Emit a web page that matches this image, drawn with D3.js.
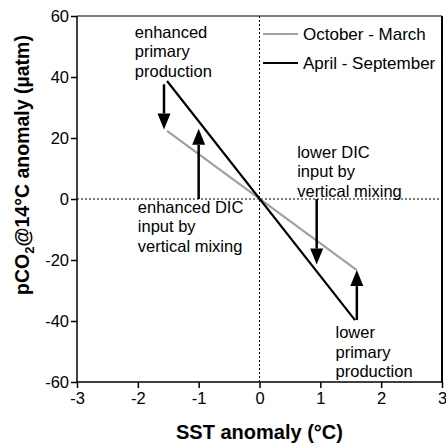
<!DOCTYPE html>
<html>
<head>
<meta charset="utf-8">
<script src="https://cdn.jsdelivr.net/npm/d3@7"></script>
<style>
  body { margin: 0; background: #fff; }
  text { font-family: "Liberation Sans", Arial, sans-serif; }
</style>
</head>
<body>
<svg id="chart" width="446" height="444"></svg>
<script>
// values
const xTicks = [-3, -2, -1, 0, 1, 2, 3];
const yTicks = [-60, -40, -20, 0, 20, 40, 60];
const octMarch = [[-1.52, 22.3], [1.6, -23.3]];
const aprSep = [[-1.52, 38.7], [1.57, -39.7]];
// arrows: x, start y, tip y
const arrows = [
  [-1.57, 37.6, 22.8],
  [-1.0, 0, 23],
  [0.94, 0, -21.5],
  [1.6, -39.7, -23.3]
];
const notes = [
  { x: -2.05, y: 52.8, lines: ['enhanced', 'primary', 'production'] },
  { x: -2.0, y: -4.5, lines: ['enhanced DIC', 'input by', 'vertical mixing'] },
  { x: 0.62, y: 13.6, lines: ['lower DIC', 'input by', 'vertical mixing'] },
  { x: 1.25, y: -45.6, lines: ['lower', 'primary', 'production'] }
];
const legendItems = [
  { label: 'October - March', color: '#a0a0a0' },
  { label: 'April - September', color: '#000' }
];

const svg = d3.select('#chart');
const m = { left: 77, right: 442, top: 16, bottom: 382 };

const x = d3.scaleLinear().domain([-3, 3]).range([m.left, m.right]);
const y = d3.scaleLinear().domain([-60, 60]).range([m.bottom, m.top]);

// frame top / right
svg.append('line')
  .attr('x1', m.left).attr('x2', m.right).attr('y1', m.top).attr('y2', m.top)
  .attr('stroke', '#000').attr('stroke-width', 1.2);
svg.append('line')
  .attr('x1', m.right).attr('x2', m.right).attr('y1', m.top).attr('y2', m.bottom)
  .attr('stroke', '#000').attr('stroke-width', 2);

// zero lines
svg.append('line')
  .attr('x1', m.left).attr('x2', m.right).attr('y1', y(0)).attr('y2', y(0))
  .attr('stroke', '#000').attr('stroke-width', 1).attr('stroke-dasharray', '2,2');
svg.append('line')
  .attr('x1', x(0)).attr('x2', x(0)).attr('y1', m.top).attr('y2', m.bottom)
  .attr('stroke', '#000').attr('stroke-width', 1).attr('stroke-dasharray', '2,2');

// axes
const fmt = d => d < 0 ? '-' + Math.abs(d) : String(d);
const xAxis = svg.append('g')
  .attr('transform', `translate(0,${m.bottom})`)
  .call(d3.axisBottom(x).tickValues(xTicks).tickSize(6).tickPadding(4).tickFormat(fmt));
const yAxis = svg.append('g')
  .attr('transform', `translate(${m.left},0)`)
  .call(d3.axisLeft(y).tickValues(yTicks).tickSize(6).tickPadding(2).tickFormat(fmt));
[xAxis, yAxis].forEach(g => {
  g.select('.domain').attr('stroke-width', 1.5);
  g.selectAll('.tick line').attr('stroke-width', 1.5);
  g.selectAll('text').attr('font-size', 16.5).attr('fill', '#000')
    .style('font-family', '"Liberation Sans", Arial, sans-serif');
});
xAxis.select('.domain').attr('d', `M${m.left},0H${m.right}`);
yAxis.select('.domain').attr('d', `M0,${m.top}V${m.bottom}`);

// series
const line = d3.line().x(d => x(d[0])).y(d => y(d[1]));
svg.append('path').attr('d', line(octMarch))
  .attr('stroke', legendItems[0].color).attr('stroke-width', 2.2).attr('fill', 'none');
svg.append('path').attr('d', line(aprSep))
  .attr('stroke', legendItems[1].color).attr('stroke-width', 2.2).attr('fill', 'none');

// arrows
const headLen = 16, headW = 6.5;
arrows.forEach(([ax, y0, y1]) => {
  const px = x(ax), p0 = y(y0), p1 = y(y1);
  const dir = p1 > p0 ? 1 : -1;
  svg.append('line')
    .attr('x1', px).attr('x2', px).attr('y1', p0).attr('y2', p1 - dir * headLen)
    .attr('stroke', '#000').attr('stroke-width', 2.5);
  svg.append('path')
    .attr('d', `M${px - headW},${p1 - dir * headLen}L${px + headW},${p1 - dir * headLen}L${px},${p1}Z`)
    .attr('fill', '#000');
});

// annotations
notes.forEach(n => {
  const t = svg.append('text')
    .attr('x', x(n.x)).attr('y', y(n.y))
    .attr('font-size', 16.5).attr('fill', '#000');
  n.lines.forEach((s, i) => {
    t.append('tspan').attr('x', x(n.x)).attr('dy', i === 0 ? 0 : 19.5).text(s);
  });
});

// legend
legendItems.forEach((d, i) => {
  const ly = 34 + i * 29;
  svg.append('line')
    .attr('x1', 263).attr('x2', 298).attr('y1', ly).attr('y2', ly)
    .attr('stroke', d.color).attr('stroke-width', 2.2);
  svg.append('text')
    .attr('x', 303).attr('y', ly + 6)
    .attr('font-size', 17).attr('fill', '#000').text(d.label);
});

// axis titles
svg.append('text')
  .attr('x', x(0)).attr('y', 439)
  .attr('text-anchor', 'middle').attr('font-size', 20).attr('font-weight', 'bold')
  .text('SST anomaly (°C)');

const yt = svg.append('text')
  .attr('transform', 'translate(29,165) rotate(-90)')
  .attr('text-anchor', 'middle').attr('font-size', 19.5).attr('font-weight', 'bold');
yt.append('tspan').text('pCO');
yt.append('tspan').attr('font-size', 13).attr('dy', 5).text('2');
yt.append('tspan').attr('dy', -5).text('@14°C anomaly (µatm)');
</script>
</body>
</html>
